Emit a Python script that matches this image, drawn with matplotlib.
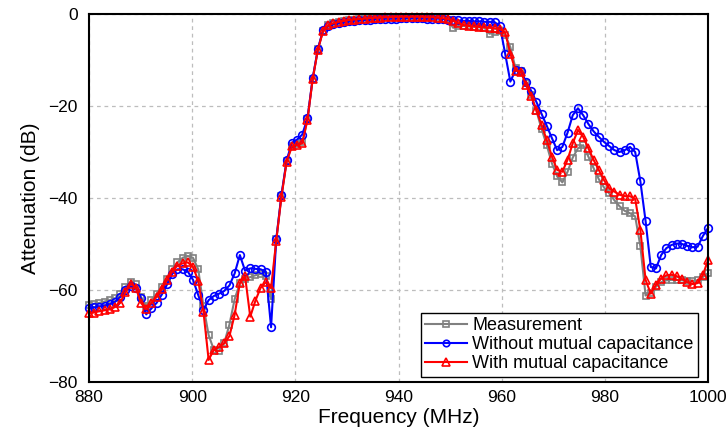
import numpy as np
import matplotlib
matplotlib.use("Agg")
import matplotlib.pyplot as plt

# Frequency sweep: 120 points from 880 to 1000 MHz
freq_start, freq_stop, n_points = 880, 1000, 120

measurement = [
    -63.2, -63.0, -62.8, -62.5, -62.2, -61.8, -60.8, -59.3, -58.3, -58.8,
    -61.5, -63.5, -62.2, -60.8, -59.3, -57.5, -55.5, -54.0, -53.0, -52.6,
    -53.0, -55.5, -63.5, -69.8, -73.0, -73.2, -71.5, -67.5, -62.0, -58.5,
    -57.5, -57.2, -56.8, -56.5, -57.0, -62.0, -49.0, -39.5, -31.9, -28.7,
    -28.3, -27.9, -22.9, -14.1, -7.7, -3.6, -2.4, -2.0, -1.7, -1.5,
    -1.3, -1.2, -1.1, -1.0, -0.9, -0.8, -0.8, -0.7, -0.7, -0.6,
    -0.6, -0.6, -0.6, -0.6, -0.6, -0.7, -0.7, -0.8, -1.0, -1.3,
    -3.0, -2.6, -2.6, -2.7, -2.8, -2.9, -3.0, -4.3, -4.0, -3.8,
    -4.5, -7.2, -11.8, -12.3, -15.0, -17.5, -21.0, -25.0, -28.5, -32.5,
    -35.3, -36.6, -34.3, -31.2, -29.2, -28.5, -31.0, -33.5, -35.9, -37.7,
    -39.0, -40.5, -41.8, -42.8, -43.3, -44.0, -50.5, -61.2, -60.6, -59.3,
    -58.3, -57.9, -57.8, -57.8, -57.9, -58.0, -58.0, -57.9, -57.2, -56.4,
]

without_mutual = [
    -64.0, -63.8, -63.6, -63.4, -63.1, -62.6, -61.5, -60.0, -59.2, -59.6,
    -61.8, -65.3, -64.0, -62.8, -61.0, -58.8, -56.5, -55.5, -55.5, -56.0,
    -57.8, -61.1, -64.3, -62.2, -61.3, -60.8, -60.2, -59.0, -56.4, -52.4,
    -55.8, -55.3, -55.4, -55.5, -56.0, -68.1, -49.0, -39.3, -31.8, -28.0,
    -27.3, -26.2, -22.7, -14.0, -7.6, -3.5, -2.6, -2.2, -2.0, -1.8,
    -1.6, -1.5, -1.4, -1.3, -1.2, -1.1, -1.0, -1.0, -1.0, -1.0,
    -0.9, -0.9, -0.9, -0.9, -0.9, -1.0, -1.0, -1.0, -1.1, -1.2,
    -1.3, -1.4, -1.5, -1.5, -1.6, -1.6, -1.7, -1.7, -1.8, -2.6,
    -8.6, -14.7, -12.2, -12.3, -14.7, -16.7, -19.1, -21.7, -24.3, -27.0,
    -29.6, -28.9, -25.8, -22.0, -20.5, -22.0, -23.9, -25.5, -26.7, -27.8,
    -28.7, -29.6, -30.0, -29.6, -28.9, -30.0, -36.4, -45.0, -55.0, -55.3,
    -52.4, -50.9, -50.2, -49.9, -50.0, -50.4, -50.7, -50.6, -48.3, -46.5,
]

with_mutual = [
    -65.0, -64.9, -64.6, -64.4, -64.2, -63.7, -62.8, -60.5, -58.6, -59.5,
    -62.8, -64.2, -62.8, -61.5, -59.8, -57.8, -56.0, -54.7, -54.2, -54.0,
    -55.0, -58.0, -64.7, -75.2, -73.0, -72.4, -71.6, -70.0, -65.4, -58.5,
    -57.0, -65.8, -62.3, -59.5, -58.3, -59.6, -49.3, -39.7, -32.1, -28.8,
    -28.5, -28.1, -23.0, -14.2, -7.8, -3.7, -2.4, -2.0, -1.7, -1.5,
    -1.3, -1.2, -1.1, -1.0, -0.9, -0.8, -0.8, -0.7, -0.7, -0.6,
    -0.6, -0.6, -0.6, -0.6, -0.6, -0.7, -0.7, -0.8, -0.9, -1.1,
    -1.5, -2.0, -2.4, -2.6, -2.7, -2.8, -2.9, -3.0, -3.1, -3.3,
    -4.0, -8.6, -12.3, -12.5, -15.4, -17.8, -20.9, -24.1, -27.4, -31.0,
    -33.9, -34.3, -31.7, -28.1, -25.2, -26.7, -29.2, -31.7, -33.9, -36.1,
    -37.9, -38.6, -39.3, -39.6, -39.6, -40.2, -47.0, -57.8, -60.8, -58.9,
    -57.5, -56.8, -56.7, -57.0, -57.6, -58.3, -58.7, -58.5, -56.8, -53.5,
]

labels = ["Measurement", "Without mutual capacitance", "With mutual capacitance"]
x_ticks = [880, 900, 920, 940, 960, 980, 1000]
y_ticks = [-80, -60, -40, -20, 0]

freq = np.linspace(freq_start, freq_stop, n_points)

plt.rcParams['font.family'] = ['Liberation Sans', 'DejaVu Sans']

fig = plt.figure(figsize=(7.28, 4.34), dpi=100)
ax = fig.add_axes([89/728, 1 - 382/434, (708 - 89)/728, (382 - 14)/434])

ax.plot(freq, measurement, color='#808080', lw=1.5, marker='s', ms=4.5,
        mfc='none', mec='#808080', mew=1.2, label=labels[0], clip_on=False, zorder=3)
ax.plot(freq, without_mutual, color='#0000ff', lw=1.5, marker='o', ms=5.5,
        mfc='none', mec='#0000ff', mew=1.2, label=labels[1], clip_on=False, zorder=4)
ax.plot(freq, with_mutual, color='#ff0000', lw=1.5, marker='^', ms=6,
        mfc='none', mec='#ff0000', mew=1.2, label=labels[2], clip_on=False, zorder=5)

ax.set_xlim(880, 1000)
ax.set_ylim(-80, 0)
ax.set_xticks(x_ticks)
ax.set_yticks(y_ticks)
ax.tick_params(axis='both', length=0, labelsize=12.5)
ax.tick_params(axis='x', pad=6)
ax.tick_params(axis='y', pad=8)
ax.grid(True, color='#bdbdbd', linestyle=(0, (3, 3)), linewidth=0.9)
ax.set_axisbelow(True)
for s in ax.spines.values():
    s.set_linewidth(1.5)
    s.set_color('black')
    s.set_zorder(6)

ax.set_xlabel("Frequency (MHz)", fontsize=15, labelpad=2)
ax.set_ylabel("Attenuation (dB)", fontsize=15, labelpad=6)

leg = ax.legend(loc='lower right', bbox_to_anchor=((698 - 89)/619, 5/368),
                borderaxespad=0, fontsize=13, frameon=True, fancybox=False,
                edgecolor='black', framealpha=1, numpoints=1,
                handlelength=2.3, handletextpad=0.3, labelspacing=0.12,
                borderpad=0.25, markerscale=0.85)
leg.get_frame().set_linewidth(1.0)
leg.set_zorder(10)

fig.savefig("out.png", dpi=100)
